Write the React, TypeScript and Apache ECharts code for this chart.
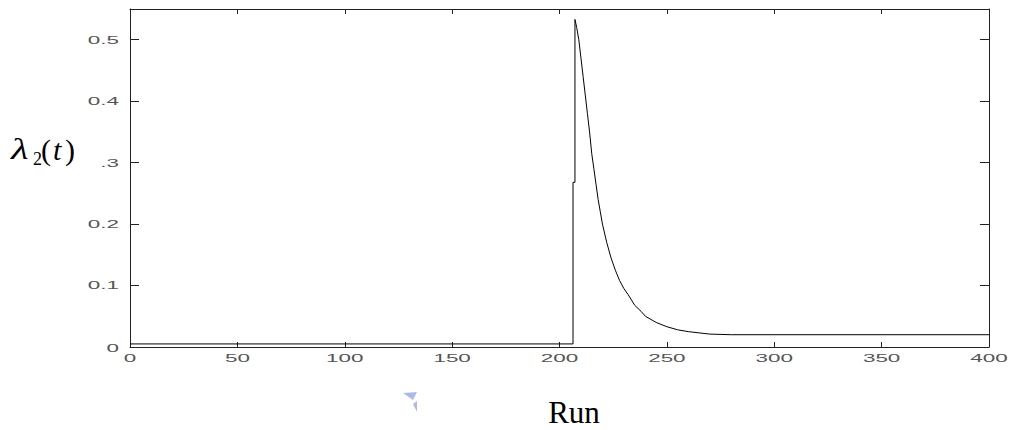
import React, { useEffect, useRef } from "react";
import * as echarts from "echarts";

const X_TICKS = [0, 50, 100, 150, 200, 250, 300, 350, 400];
const X_TICK_LABELS = ["0", "50", "100", "150", "200", "250", "300", "350", "400"];
const Y_TICKS = [0, 0.1, 0.2, 0.3, 0.4, 0.5];
const Y_TICK_LABELS = ["0", "0.1", "0.2", ".3", "0.4", "0.5"];

const RUNS = [
  0, 206.3, 206.3, 207.2, 207.2, 208, 209, 210, 211, 212, 213, 214, 215, 216, 217, 218, 219, 220,
  222, 224, 226, 228, 230, 232, 235, 238, 240, 245, 250, 255, 260, 265, 270, 280, 400,
];
const LAMBDA2 = [
  0.005, 0.005, 0.268, 0.268, 0.533, 0.52, 0.5, 0.47, 0.44, 0.41, 0.38, 0.35, 0.315, 0.29, 0.265,
  0.24, 0.22, 0.2, 0.17, 0.145, 0.125, 0.108, 0.095, 0.085, 0.068, 0.058, 0.05, 0.04, 0.033,
  0.028, 0.025, 0.023, 0.021, 0.02, 0.02,
];

const X_LABEL = "Run";

export default function App() {
  const ref = useRef<HTMLDivElement>(null);

  useEffect(() => {
    if (!ref.current) return;
    const chart = echarts.init(ref.current, null, { renderer: "svg" });
    const lineColor = "#222";
    const axisCommon = {
      type: "value" as const,
      splitLine: { show: false },
      axisLabel: { show: false },
      axisLine: { show: true, onZero: false, lineStyle: { color: lineColor, width: 1 } },
    };
    chart.setOption({
      animation: false,
      backgroundColor: "#fff",
      grid: { left: 130, right: 25, top: 9, bottom: 83, outerBoundsMode: "none", containLabel: false },
      xAxis: [
        {
          ...axisCommon,
          position: "bottom",
          min: 0,
          max: 400,
          interval: 50,
          axisTick: { show: true, inside: true, length: 5, lineStyle: { color: lineColor } },
        },
        {
          ...axisCommon,
          position: "top",
          min: 0,
          max: 400,
          interval: 50,
          axisTick: { show: true, inside: true, length: 5, lineStyle: { color: lineColor } },
        },
      ],
      yAxis: [
        {
          ...axisCommon,
          position: "left",
          min: 0,
          max: 0.55,
          interval: 0.1,
          axisTick: { show: true, inside: true, length: 9, lineStyle: { color: lineColor } },
        },
        {
          ...axisCommon,
          position: "right",
          min: 0,
          max: 0.55,
          interval: 0.1,
          axisTick: { show: true, inside: true, length: 9, lineStyle: { color: lineColor } },
        },
      ],
      series: [
        {
          type: "line",
          xAxisIndex: 0,
          yAxisIndex: 0,
          data: RUNS.map((r, i) => [r, LAMBDA2[i]]),
          showSymbol: false,
          symbol: "none",
          lineStyle: { color: "#000", width: 1 },
          silent: true,
        },
      ],
    });

    const tickFont = {
      fontFamily: "Liberation Sans, Arial, sans-serif",
      fontSize: 11.5,
      fill: "#555",
    };
    const serif = "Liberation Serif, Times New Roman, serif";
    const graphics: any[] = [];
    X_TICKS.forEach((v, i) => {
      const px = chart.convertToPixel({ xAxisIndex: 0 }, v) as number;
      graphics.push({
        type: "text",
        x: px,
        y: 358.5,
        scaleX: 1.95,
        style: { ...tickFont, text: X_TICK_LABELS[i], align: "center", verticalAlign: "middle" },
      });
    });
    Y_TICKS.forEach((v, i) => {
      const py = chart.convertToPixel({ yAxisIndex: 0 }, v) as number;
      graphics.push({
        type: "text",
        x: 119,
        y: py + (v === 0 ? 1.5 : 0),
        scaleX: 1.95,
        style: { ...tickFont, text: Y_TICK_LABELS[i], align: "right", verticalAlign: "middle" },
      });
    });
    // y-axis name: lambda_2(t)
    graphics.push({
      type: "text",
      x: 11,
      y: 149,
      scaleX: 1.35,
      style: {
        text: "λ",
        fontFamily: serif,
        fontStyle: "italic",
        fontSize: 30,
        fill: "#000",
        align: "left",
        verticalAlign: "middle",
      },
    });
    graphics.push({
      type: "text",
      x: 33,
      y: 159,
      style: { text: "2", fontFamily: serif, fontSize: 18, fill: "#000", align: "left", verticalAlign: "middle" },
    });
    graphics.push({
      type: "text",
      x: 41,
      y: 149,
      style: { text: "(", fontFamily: serif, fontSize: 30, fill: "#000", align: "left", verticalAlign: "middle" },
    });
    graphics.push({
      type: "text",
      x: 53,
      y: 149,
      style: {
        text: "t",
        fontFamily: serif,
        fontStyle: "italic",
        fontSize: 30,
        fill: "#000",
        align: "left",
        verticalAlign: "middle",
      },
    });
    graphics.push({
      type: "text",
      x: 65,
      y: 149,
      style: { text: ")", fontFamily: serif, fontSize: 30, fill: "#000", align: "left", verticalAlign: "middle" },
    });
    // x-axis name
    graphics.push({
      type: "text",
      x: 574,
      y: 412,
      style: { text: X_LABEL, fontFamily: serif, fontSize: 31, fill: "#000", align: "center", verticalAlign: "middle" },
    });
    // small bluish artifact
    graphics.push({
      type: "polygon",
      shape: { points: [[403, 393], [417, 392], [413, 400]] },
      style: { fill: "#8d9be0", opacity: 0.7 },
    });
    graphics.push({
      type: "polygon",
      shape: { points: [[413, 404], [417, 401], [417, 412]] },
      style: { fill: "#8d9be0", opacity: 0.7 },
    });

    chart.setOption({ graphic: graphics });

    return () => {
      chart.dispose();
    };
  }, []);

  return (
    <div
      ref={ref}
      style={{ position: "fixed", left: 0, top: 0, width: 1014, height: 430, background: "#fff" }}
    />
  );
}
